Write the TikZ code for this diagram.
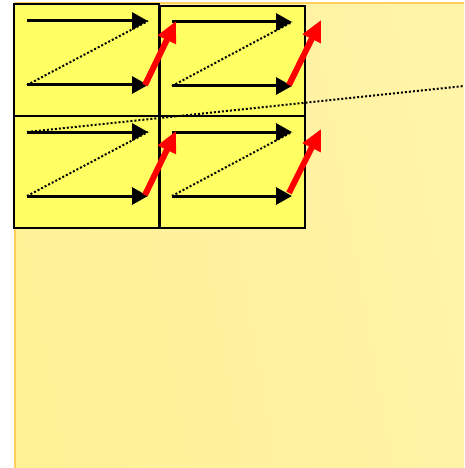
\documentclass[tikz,border=0pt]{standalone}
\usetikzlibrary{arrows.meta}

\definecolor{bgleft}{RGB}{255,241,150}
\definecolor{bgmid}{RGB}{255,237,125}
\definecolor{bgright}{RGB}{255,244,168}
\definecolor{bgedge}{RGB}{255,208,95}
\definecolor{boxfill}{RGB}{255,255,100}

\tikzset{
    blockbox/.style = {draw=black, line width=2pt, fill=boxfill},
    scanarrow/.style = {line width=3pt, -{Triangle[length=16pt,width=17pt]}},
    jumparrow/.style = {draw=red, line width=6pt, -{Triangle[length=21pt,width=19pt]}},
    backline/.style = {line width=2pt, dotted}
}

\begin{document}
\begin{tikzpicture}[x=1pt, y=-1pt]
    \useasboundingbox (0,0) rectangle (464,468);

    % Background panel
    \shade[left color=bgleft, middle color=bgmid, right color=bgright, shading angle=100]
        (14,3) rectangle (464,468);
    \draw[bgedge, line width=2.5pt] (15,468) -- (15,3) -- (464,3);

    % The four blocks
    \draw[blockbox] (14,4.5) rectangle (159,116);
    \draw[blockbox] (160,6) rectangle (305,116);
    \draw[blockbox] (14,116) rectangle (159,228);
    \draw[blockbox] (160,116) rectangle (305,228);

    % Block 1 (top left)
    \coordinate (A1) at (27,21);  \coordinate (B1) at (148,21);
    \coordinate (C1) at (27,85);  \coordinate (D1) at (148,85);
    \draw[scanarrow] (A1) -- (B1);
    \draw[backline] (C1) -- (B1);
    \draw[scanarrow] (C1) -- (D1);

    % Block 2 (top right)
    \coordinate (A2) at (172,22); \coordinate (B2) at (292,22);
    \coordinate (C2) at (172,86); \coordinate (D2) at (292,86);
    \draw[scanarrow] (A2) -- (B2);
    \draw[backline] (C2) -- (B2);
    \draw[scanarrow] (C2) -- (D2);

    % Block 3 (bottom left)
    \coordinate (A3) at (27,132);  \coordinate (B3) at (148,132);
    \coordinate (C3) at (27,196);  \coordinate (D3) at (148,196);
    \draw[scanarrow] (A3) -- (B3);
    \draw[backline] (C3) -- (B3);
    \draw[scanarrow] (C3) -- (D3);

    % Block 4 (bottom right)
    \coordinate (A4) at (172,132); \coordinate (B4) at (292,132);
    \coordinate (C4) at (172,196); \coordinate (D4) at (292,196);
    \draw[scanarrow] (A4) -- (B4);
    \draw[backline] (C4) -- (B4);
    \draw[scanarrow] (C4) -- (D4);

    % Return line from block 3 to the next row
    \coordinate (R) at (464,86);
    \draw[backline] (A3) -- (R);

    % Jumps to the next block
    \draw[jumparrow] (145,85) -- (176,21);
    \draw[jumparrow] (289,85) -- (321,20);
    \draw[jumparrow] (145,195) -- (176,131);
    \draw[jumparrow] (289,193) -- (321,129);
\end{tikzpicture}
\end{document}
